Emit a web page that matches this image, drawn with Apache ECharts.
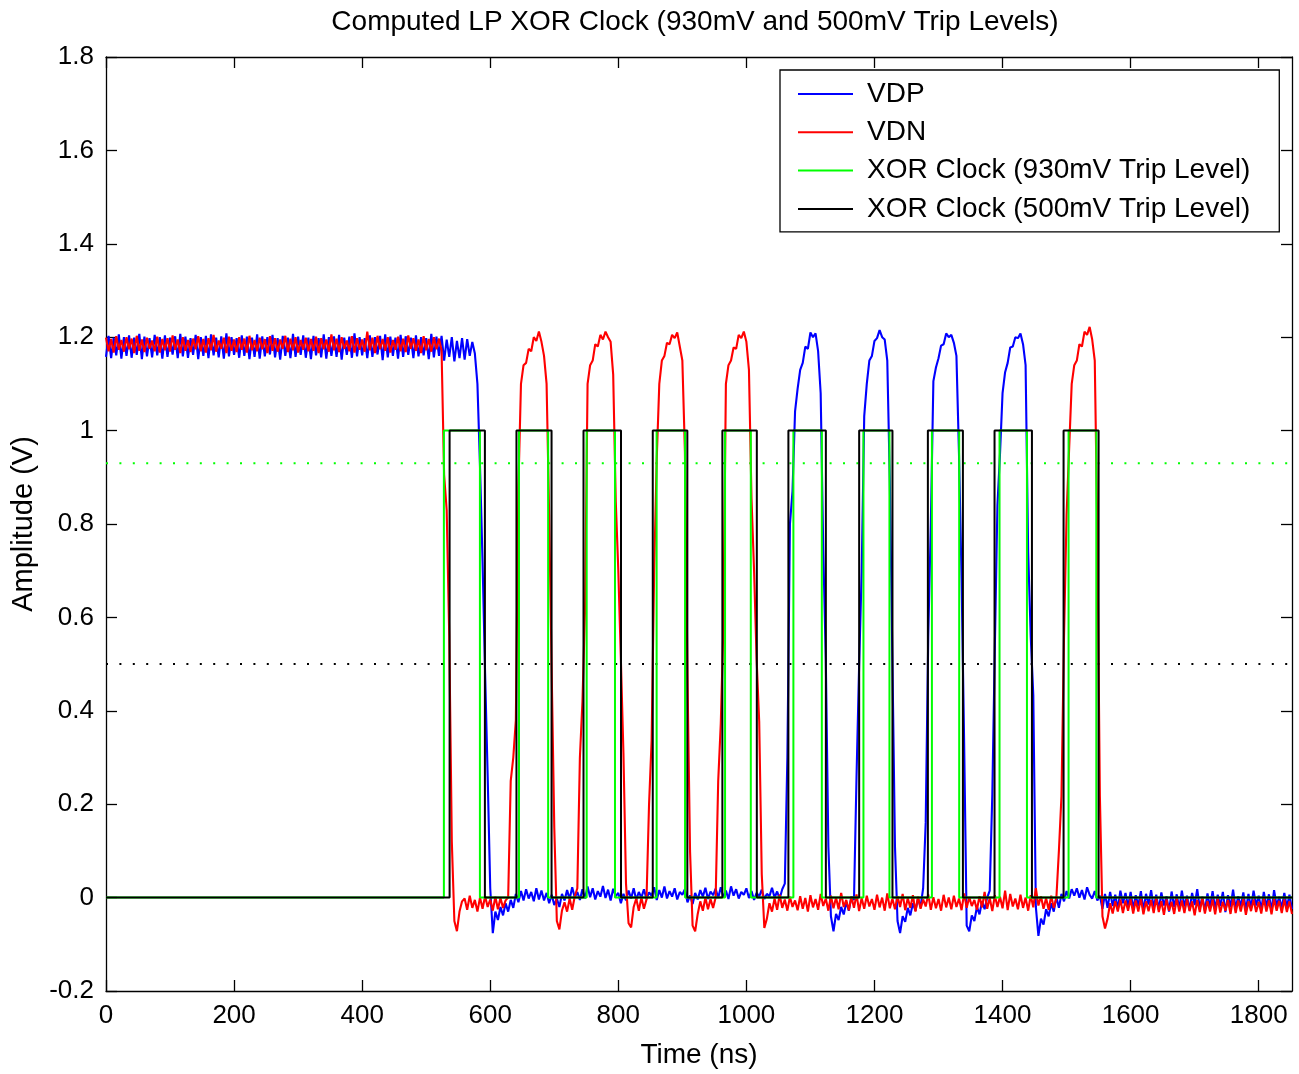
<!DOCTYPE html>
<html>
<head>
<meta charset="utf-8">
<title>Computed LP XOR Clock</title>
<script src="https://cdn.jsdelivr.net/npm/echarts@6/dist/echarts.min.js"></script>
<style>
  html, body { margin: 0; padding: 0; background: #fff; }
  #chart { width: 1299px; height: 1074px; }
</style>
</head>
<body>
<div id="chart"></div>
<script>
// Captured LP line voltages, one sample every SAMPLE_NS nanoseconds starting at t = 0.
const SAMPLE_NS = 4;

// VDP line, millivolts
const vdpMilliVolts = [
  1158,1203,1155,1199,1161,1206,1154,1200,1160,1204,
  1156,1199,1162,1207,1153,1201,1159,1198,1157,1205,
  1161,1200,1154,1204,1158,1199,1163,1202,1155,1207,
  1159,1201,1156,1198,1162,1205,1153,1200,1160,1203,
  1155,1206,1161,1199,1157,1202,1154,1208,1159,1200,
  1162,1198,1156,1204,1160,1201,1153,1199,1158,1206,
  1154,1202,1159,1200,1163,1205,1157,1198,1152,1203,
  1160,1199,1155,1207,1158,1201,1162,1204,1156,1199,
  1153,1203,1161,1198,1157,1206,1154,1200,1160,1202,
  1158,1205,1152,1199,1162,1201,1156,1208,1159,1200,
  1161,1198,1155,1204,1158,1200,1163,1203,1151,1206,
  1157,1201,1160,1199,1154,1205,1158,1202,1162,1199,
  1155,1204,1159,1200,1161,1198,1153,1207,1157,1201,
  1160,1203,1150,1195,1158,1200,1148,1192,1155,1198,
  1152,1196,1160,1190,1165,1100,925,720,480,260,
  20,-76,-30,-48,-20,-38,-12,-30,-5,-22,
  8,-10,14,-6,18,-2,12,-8,20,-4,
  15,-6,10,-12,6,-16,-2,-20,8,-6,
  16,-3,22,0,12,-5,18,-2,24,1,
  20,-4,14,2,25,-1,17,-6,19,3,
  10,-12,8,-6,15,-2,20,-5,12,0,
  18,-3,11,4,22,-5,16,0,24,-2,
  14,2,20,-4,12,6,18,-10,5,-14,
  10,-4,16,2,21,-3,13,5,19,-1,
  22,0,15,-3,24,4,18,-2,12,6,
  20,-1,14,-5,10,2,17,-3,8,3,
  21,0,13,-2,18,30,300,800,870,1041,
  1090,1130,1145,1180,1175,1210,1200,1208,1170,1080,
  747,510,110,-40,-72,-35,-48,-20,-36,-10,
  -28,2,-5,260,495,695,1031,1100,1150,1160,
  1192,1198,1215,1200,1195,1150,891,510,110,-50,
  -76,-40,-52,-22,-38,-12,-28,-2,-20,20,
  160,560,800,1106,1135,1155,1182,1185,1208,1200,
  1205,1188,1160,950,683,334,-60,-72,-38,-50,
  -20,-36,-8,-25,0,15,220,540,840,949,
  1080,1125,1145,1178,1180,1200,1198,1208,1185,1140,
  740,560,434,-20,-82,-45,-58,-25,-40,-12,
  -30,2,-22,8,-8,14,-2,18,4,20,
  0,16,-4,22,6,-2,14,-6,4,-24,
  8,-22,12,-18,6,-25,15,-12,10,-20,
  12,-24,5,-18,14,-28,8,-15,16,-22,
  6,-26,11,-17,3,-30,13,-20,7,-24,
  15,-19,4,-27,10,-16,18,-23,2,-29,
  9,-21,14,-25,6,-18,12,-31,5,-20,
  17,-24,3,-19,11,-27,8,-22,15,-17,
  4,-26,12,-20,7,-29,16,-18,2,-23,
  10,-21,6,-25
];

// VDN line, millivolts
const vdnMilliVolts = [
  1199,1170,1196,1167,1202,1173,1194,1169,1200,1174,
  1197,1166,1203,1171,1195,1168,1199,1175,1193,1170,
  1201,1167,1196,1172,1198,1169,1204,1173,1195,1166,
  1200,1171,1194,1168,1197,1174,1202,1170,1196,1167,
  1198,1172,1205,1169,1193,1175,1199,1166,1201,1171,
  1195,1168,1200,1173,1197,1167,1203,1172,1194,1170,
  1199,1174,1196,1166,1202,1171,1198,1169,1195,1175,
  1203,1168,1197,1172,1200,1167,1194,1173,1199,1170,
  1196,1171,1201,1166,1198,1174,1195,1169,1206,1172,
  1197,1168,1200,1175,1193,1170,1202,1167,1198,1173,
  1195,1169,1212,1172,1199,1166,1203,1174,1196,1171,
  1200,1167,1194,1173,1201,1170,1197,1168,1204,1175,
  1198,1171,1195,1166,1202,1172,1196,1169,1200,1174,
  1197,1172,905,830,560,120,-50,-72,-30,-8,
  -2,-26,4,-22,-5,-30,0,-24,3,-20,
  -4,-28,2,-25,-1,-22,-6,0,250,300,
  380,880,1100,1140,1145,1175,1170,1200,1192,1212,
  1190,1160,1100,820,480,150,-50,-68,-28,-10,
  -30,-2,-26,3,20,300,420,614,1100,1140,
  1150,1185,1180,1205,1195,1212,1200,1190,1120,849,
  700,510,310,30,-55,-64,-20,-2,-28,0,
  -24,-4,200,336,700,940,1100,1150,1160,1188,
  1185,1205,1198,1210,1180,1150,954,476,100,-60,
  -72,-35,-8,-28,0,-25,-3,-22,0,250,
  372,577,1100,1140,1150,1178,1175,1205,1198,1212,
  1190,1130,854,700,510,377,50,-65,-45,-12,
  -30,-2,-26,6,-22,-4,-28,2,-20,-6,
  -27,3,-24,-1,-30,5,-21,-3,-26,8,
  -18,-2,-28,4,-23,0,-25,10,-20,-5,
  -27,2,-22,7,-29,-1,-24,4,-19,-3,
  -26,6,-21,0,-28,9,-23,-2,-25,3,
  -20,8,-27,-1,-22,5,-30,2,-24,-4,
  -19,7,-26,1,-23,-3,-28,6,-21,0,
  -25,4,-20,-2,-27,9,-22,1,-18,-5,
  -26,3,-21,12,-24,-1,-29,5,-20,2,
  -23,15,-27,8,-19,-2,-25,6,-22,0,
  -28,5,-21,20,-17,3,-24,-1,-26,4,
  -22,-2,100,217,560,820,962,1100,1140,1150,
  1185,1180,1212,1205,1222,1195,1150,783,217,-40,
  -66,-45,-12,-34,-8,-30,-4,-33,-6,-28,
  -3,-34,-6,-30,-2,-36,-8,-29,-5,-33,
  -1,-31,-7,-37,-4,-28,-9,-35,-2,-30,
  -6,-33,-3,-29,-8,-38,-5,-31,0,-34,
  -7,-30,-4,-36,-2,-32,-9,-28,-5,-35,
  -1,-33,-6,-30,-3,-37,-8,-29,-4,-31,
  -9,-34,-2,-30,-6,-36,-3,-28,-7,-33,
  -4,-31,-8,-35
];

// Comparator trip levels, millivolts
const tripHighMilliVolts = 930;
const tripLowMilliVolts = 500;

// Axis ranges and tick labels
const timeRange = [0, 1852];
const timeTicks = [0, 200, 400, 600, 800, 1000, 1200, 1400, 1600, 1800];
const voltRange = [-0.2, 1.8];
const voltStep = 0.2;

const seriesNames = ['VDP', 'VDN', 'XOR Clock (930mV Trip Level)', 'XOR Clock (500mV Trip Level)'];
const chartTitle = 'Computed LP XOR Clock (930mV and 500mV Trip Levels)';
const xAxisTitle = 'Time (ns)';
const yAxisTitle = 'Amplitude (V)';

const FONT = '"Liberation Sans", Arial, Helvetica, sans-serif';

function toPoints(mv) {
  return mv.map((v, i) => [i * SAMPLE_NS, v / 1000]);
}

// Time at which a line crosses the trip level between samples i-1 and i (linear).
function crossingTime(mv, i, level) {
  const a = mv[i - 1], b = mv[i];
  return (i - 1 + (level - a) / (b - a)) * SAMPLE_NS;
}

// XOR of the two comparator outputs, drawn as a 0 / 1 V square wave.
function xorClock(p, n, level) {
  let hp = p[0] > level, hn = n[0] > level;
  let out = hp !== hn ? 1 : 0;
  const pts = [[0, out]];
  for (let i = 1; i < p.length; i++) {
    const np = p[i] > level, nn = n[i] > level;
    const edges = [];
    if (np !== hp) edges.push(crossingTime(p, i, level));
    if (nn !== hn) edges.push(crossingTime(n, i, level));
    edges.sort((a, b) => a - b);
    for (const t of edges) {
      pts.push([t, out]);
      out = 1 - out;
      pts.push([t, out]);
    }
    hp = np; hn = nn;
  }
  pts.push([(p.length - 1) * SAMPLE_NS, out]);
  return pts;
}

const axisColor = '#000';

function xAxisDef(position, showLabels) {
  return {
    type: 'value',
    position: position,
    min: timeRange[0],
    max: timeRange[1],
    name: showLabels ? xAxisTitle : '',
    nameLocation: 'middle',
    nameGap: 50,
    nameTextStyle: { fontSize: 28, fontFamily: FONT, color: '#000' },
    axisLine: { show: true, onZero: false, lineStyle: { color: axisColor, width: 1.3 } },
    axisTick: { show: true, inside: true, length: 11, customValues: timeTicks,
                lineStyle: { color: axisColor, width: 1.3 } },
    axisLabel: { show: showLabels, customValues: timeTicks, margin: 12,
                 fontSize: 26, fontFamily: FONT, color: '#000',
                 formatter: v => String(v) },
    splitLine: { show: false }
  };
}

function yAxisDef(position, showLabels) {
  return {
    type: 'value',
    position: position,
    min: voltRange[0],
    max: voltRange[1],
    interval: voltStep,
    name: showLabels ? yAxisTitle : '',
    nameLocation: 'middle',
    nameGap: 62,
    nameTextStyle: { fontSize: 29, fontFamily: FONT, color: '#000' },
    axisLine: { show: true, onZero: false, lineStyle: { color: axisColor, width: 1.3 } },
    axisTick: { show: true, inside: true, length: 11, lineStyle: { color: axisColor, width: 1.3 } },
    axisLabel: { show: showLabels, margin: 12, fontSize: 26, fontFamily: FONT, color: '#000',
                 formatter: v => String(Math.round(v * 10) / 10) },
    splitLine: { show: false }
  };
}

function trace(name, data, color, width, z) {
  return {
    name: name, type: 'line', data: data,
    symbol: 'none', showSymbol: false, silent: true, z: z,
    lineStyle: { color: color, width: width },
    itemStyle: { color: color }
  };
}

function tripLine(level, color) {
  return {
    type: 'line', silent: true, symbol: 'none', z: 1,
    data: [[timeRange[0], level / 1000], [timeRange[1], level / 1000]],
    lineStyle: { color: color, width: 2, type: [2, 11.4], cap: 'butt' }
  };
}

const chart = echarts.init(document.getElementById('chart'), null, { renderer: 'canvas' });

chart.setOption({
  animation: false,
  backgroundColor: '#fff',
  textStyle: { fontFamily: FONT },
  grid: { left: 106, right: 7, top: 57, bottom: 81, containLabel: false },
  xAxis: [xAxisDef('bottom', true), xAxisDef('top', false)],
  yAxis: [yAxisDef('left', true), yAxisDef('right', false)],
  legend: {
    orient: 'vertical',
    left: 780,
    top: 70,
    data: seriesNames,
    selectedMode: false,
    icon: 'rect',
    itemWidth: 55,
    itemHeight: 2,
    itemGap: 10.3,
    padding: [10, 29, 9, 18],
    backgroundColor: '#fff',
    borderColor: '#000',
    borderWidth: 1.3,
    borderRadius: 0,
    textStyle: { fontSize: 28, fontFamily: FONT, color: '#000', padding: [0, 0, 0, 9] }
  },
  graphic: [{
    type: 'text',
    x: 695,
    y: 22,
    silent: true,
    style: {
      text: chartTitle,
      fontSize: 28,
      fontFamily: FONT,
      fill: '#000',
      align: 'center',
      verticalAlign: 'middle',
      textAlign: 'center',
      textVerticalAlign: 'middle'
    }
  }],
  series: [
    tripLine(tripHighMilliVolts, '#00ff00'),
    tripLine(tripLowMilliVolts, '#000000'),
    trace(seriesNames[0], toPoints(vdpMilliVolts), '#0000ff', 2.1, 2),
    trace(seriesNames[1], toPoints(vdnMilliVolts), '#ff0000', 2.1, 3),
    trace(seriesNames[2], xorClock(vdpMilliVolts, vdnMilliVolts, tripHighMilliVolts), '#00ff00', 2, 4),
    trace(seriesNames[3], xorClock(vdpMilliVolts, vdnMilliVolts, tripLowMilliVolts), '#000000', 2, 5)
  ]
});
</script>
</body>
</html>
